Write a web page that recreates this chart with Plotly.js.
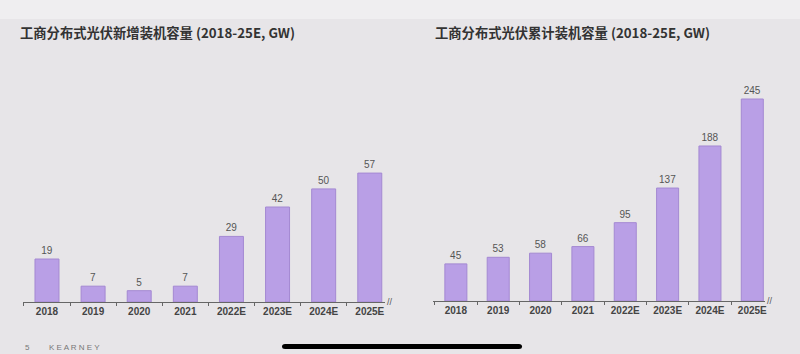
<!DOCTYPE html>
<html>
<head>
<meta charset="utf-8">
<script src="https://cdn.plot.ly/plotly-3.0.1.min.js"></script>
<style>html,body{margin:0;padding:0;background:#e7e5e8;}#chart{width:800px;height:354px;}</style>
</head>
<body>
<div id="chart"></div>
<script>
const categories = ['2018', '2019', '2020', '2021', '2022E', '2023E', '2024E', '2025E'];
const newCapacity = [19, 7, 5, 7, 29, 42, 50, 57];
const cumulativeCapacity = [45, 53, 58, 66, 95, 137, 188, 245];
const titleLeft = '工商分布式光伏新增装机容量 (2018-25E, GW)';
const titleRight = '工商分布式光伏累计装机容量 (2018-25E, GW)';

const W = 800, H = 354;
const px = x => x / W;
const py = y => (H - y) / H;

const barColor = '#b99fe6';
const barLine = '#a489d2';
const numFont = 'Liberation Sans, Arial, Noto Sans CJK SC, sans-serif';

const traces = [
  {
    type: 'bar', x: categories, y: newCapacity, xaxis: 'x', yaxis: 'y',
    marker: {color: barColor, line: {color: barLine, width: 1}},
    text: newCapacity.map(String), textposition: 'outside', cliponaxis: false,
    textfont: {family: numFont, size: 10, color: '#555'}, hoverinfo: 'none'
  },
  {
    type: 'bar', x: categories, y: cumulativeCapacity, xaxis: 'x2', yaxis: 'y2',
    marker: {color: barColor, line: {color: barLine, width: 1}},
    text: cumulativeCapacity.map(String), textposition: 'outside', cliponaxis: false,
    textfont: {family: numFont, size: 10, color: '#555'}, hoverinfo: 'none'
  }
];

const xCommon = {
  type: 'category', showline: true, linecolor: '#666', linewidth: 1,
  ticks: 'outside', tickson: 'boundaries', ticklen: 3, tickcolor: '#666',
  showgrid: false, zeroline: false, fixedrange: true,
  tickfont: {family: numFont, size: 10, color: '#444', weight: 'bold'}
};
const yCommon = {visible: false, showgrid: false, zeroline: false, fixedrange: true};

const layout = {
  width: W, height: H,
  margin: {l: 0, r: 0, t: 0, b: 0},
  paper_bgcolor: '#e7e5e8', plot_bgcolor: 'rgba(0,0,0,0)',
  showlegend: false, bargap: 0.48,
  font: {family: numFont},
  xaxis: Object.assign({}, xCommon, {domain: [px(23), px(385)], range: [-0.52, 7.33], anchor: 'y'}),
  yaxis: Object.assign({}, yCommon, {domain: [py(302), py(60)], range: [0, 107], anchor: 'x'}),
  xaxis2: Object.assign({}, xCommon, {domain: [px(433), px(765)], range: [-0.54, 7.3], anchor: 'y2'}),
  yaxis2: Object.assign({}, yCommon, {domain: [py(301), py(60)], range: [0, 292.3], anchor: 'x2'}),
  shapes: [
    {type: 'rect', xref: 'paper', yref: 'paper', x0: 0, x1: 1, y0: py(19), y1: 1,
     fillcolor: '#efeef0', line: {width: 0}, layer: 'below'},
    {type: 'path', xref: 'paper', yref: 'paper', fillcolor: '#000', line: {width: 0},
     path: `M ${px(285)} ${py(344)} L ${px(519)} ${py(344)} Q ${px(522)} ${py(344)} ${px(522)} ${py(346.5)} Q ${px(522)} ${py(349)} ${px(519)} ${py(349)} L ${px(285)} ${py(349)} Q ${px(282)} ${py(349)} ${px(282)} ${py(346.5)} Q ${px(282)} ${py(344)} ${px(285)} ${py(344)} Z`}
  ],
  annotations: [
    {text: '<b>' + titleLeft + '</b>', xref: 'paper', yref: 'paper', x: px(18), y: py(33),
     xanchor: 'left', yanchor: 'middle', showarrow: false,
     font: {family: 'Noto Sans CJK SC, Liberation Sans, sans-serif', size: 13.3, color: '#333'}},
    {text: '<b>' + titleRight + '</b>', xref: 'paper', yref: 'paper', x: px(433), y: py(33),
     xanchor: 'left', yanchor: 'middle', showarrow: false,
     font: {family: 'Noto Sans CJK SC, Liberation Sans, sans-serif', size: 13.3, color: '#333'}},
    {text: '//', xref: 'paper', yref: 'paper', x: px(385), y: py(302), xanchor: 'left', yanchor: 'middle',
     showarrow: false, font: {family: numFont, size: 9, color: '#555'}},
    {text: '//', xref: 'paper', yref: 'paper', x: px(765), y: py(301), xanchor: 'left', yanchor: 'middle',
     showarrow: false, font: {family: numFont, size: 9, color: '#555'}},
    {text: '5', xref: 'paper', yref: 'paper', x: px(23), y: py(347), xanchor: 'left', yanchor: 'middle',
     showarrow: false, font: {family: numFont, size: 8, color: '#777'}},
    {text: 'K E A R N E Y', xref: 'paper', yref: 'paper', x: px(47), y: py(347), xanchor: 'left', yanchor: 'middle',
     showarrow: false, font: {family: numFont, size: 8, color: '#777'}}
  ]
};

Plotly.newPlot('chart', traces, layout, {displayModeBar: false, staticPlot: true});
</script>
</body>
</html>
